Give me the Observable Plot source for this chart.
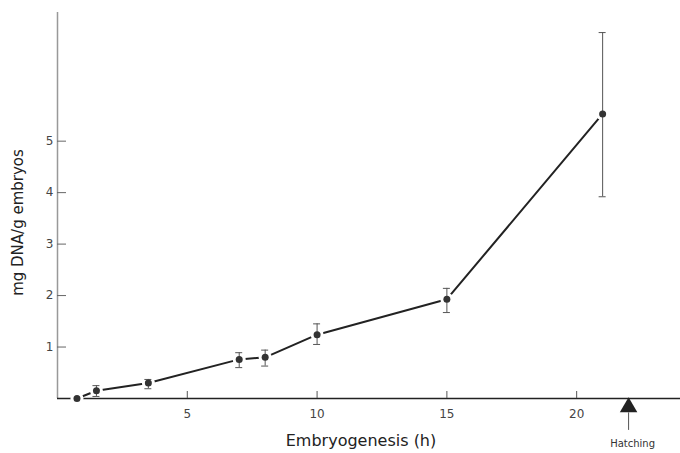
<!DOCTYPE html>
<html>
<head>
<meta charset="utf-8">
<script src="https://cdn.jsdelivr.net/npm/d3@7"></script>
<script src="https://cdn.jsdelivr.net/npm/@observablehq/plot@0.6"></script>
<style>
  html, body { margin: 0; padding: 0; background: #fff; }
  #chart svg { display: block; }
</style>
</head>
<body>
<div id="chart"></div>
<script>
// Data
const hours = [0.75, 1.5, 3.5, 7, 8, 10, 15, 21];
const dnaMean = [0.0, 0.15, 0.30, 0.76, 0.80, 1.24, 1.93, 5.53];
const dnaHigh = [0.0, 0.25, 0.37, 0.89, 0.94, 1.45, 2.14, 7.11];
const dnaLow = [0.0, 0.04, 0.19, 0.60, 0.63, 1.05, 1.67, 3.92];
const xTicks = [5, 10, 15, 20];
const yTicks = [1, 2, 3, 4, 5];
const hatchX = [22];
const hatchLabel = ["Hatching"];
const hatchStem = [-0.62, -0.28]; // stem extent below the axis (data units)
const hatchHead = [-0.17];

const data = hours.map((t, i) => ({t, m: dnaMean[i], hi: dnaHigh[i], lo: dnaLow[i]}));
const errData = data.filter(d => d.hi > d.lo);
const hatch = hatchX.map((x, i) => ({x, label: hatchLabel[i], y1: hatchStem[0], y2: hatchStem[1], yh: hatchHead[0]}));

const font = "'DejaVu Sans', Lato, sans-serif";

const chart = Plot.plot({
  width: 680,
  height: 453,
  marginLeft: 57,
  marginRight: 0,
  marginTop: 12,
  marginBottom: 55,
  style: {fontFamily: font, fontSize: "11px", color: "#333", background: "#fff"},
  x: {domain: [0, 24]},
  y: {domain: [0, 7.5]},
  marks: [
    Plot.ruleX([0], {stroke: "#999", strokeWidth: 1.5}),
    Plot.ruleY([0], {stroke: "#222", strokeWidth: 1.5}),
    Plot.axisX({ticks: xTicks, tickSize: -7, tickPadding: 18, stroke: "#555", fill: "#444", fontSize: 12, label: null}),
    Plot.axisY({ticks: yTicks, tickSize: -9, tickPadding: 13, stroke: "#666", fill: "#444", fontSize: 12, label: null}),
    Plot.line(data, {x: "t", y: "m", stroke: "#222", strokeWidth: 2}),
    Plot.dot(data, {x: "t", y: "m", r: 6.5, fill: "#fff", stroke: "none"}),
    Plot.ruleX(errData, {x: "t", y1: "lo", y2: "hi", stroke: "#555", strokeWidth: 1}),
    Plot.ruleY(errData, {x1: "t", x2: "t", y: "hi", insetLeft: -3.5, insetRight: -3.5, stroke: "#555", strokeWidth: 1}),
    Plot.ruleY(errData, {x1: "t", x2: "t", y: "lo", insetLeft: -3.5, insetRight: -3.5, stroke: "#555", strokeWidth: 1}),
    Plot.dot(data, {x: "t", y: "m", r: 3.5, fill: "#333", stroke: "none"}),
    Plot.ruleX(hatch, {x: "x", y1: "y1", y2: "y2", stroke: "#555", strokeWidth: 1}),
    Plot.dot(hatch, {x: "x", y: "yh", symbol: "triangle", r: 6.5, fill: "#222", stroke: "none"}),
    Plot.text(hatch, {x: "x", y: "y1", text: "label", dy: 13, dx: 4, fontSize: 10, fill: "#333"}),
    Plot.text(["mg DNA/g embryos"], {frameAnchor: "left", textAnchor: "middle", dx: -39, dy: 17, rotate: -90, fontSize: 15, fill: "#222"}),
    Plot.text(["Embryogenesis (h)"], {frameAnchor: "bottom", textAnchor: "middle", dx: -8, dy: 47, fontSize: 16, fill: "#222"})
  ]
});
document.getElementById("chart").appendChild(chart);
</script>
</body>
</html>
